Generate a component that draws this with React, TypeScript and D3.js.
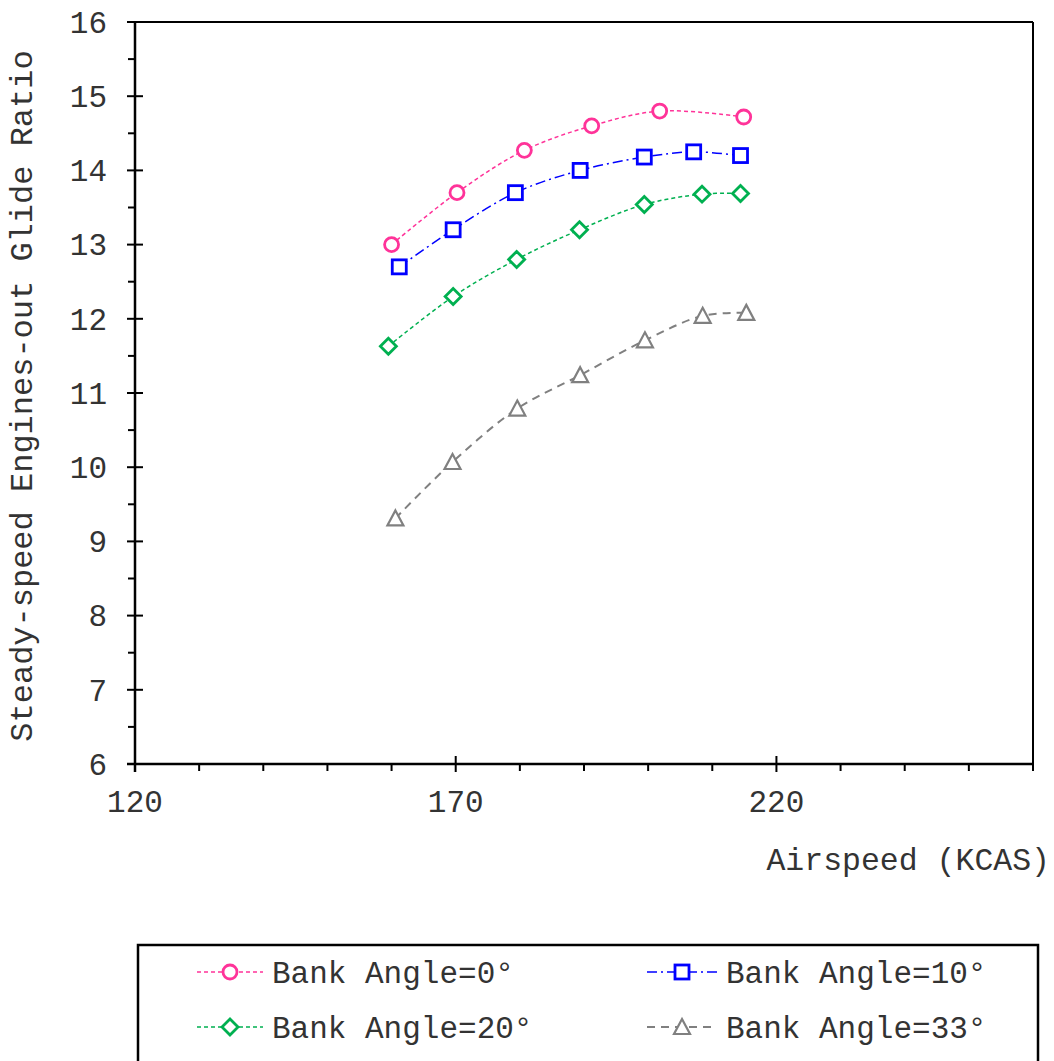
import React from "react";
import * as d3 from "d3";

const pinkX = [160, 170.2, 180.7, 191.2, 201.8, 214.9];
const pinkY = [13.0, 13.7, 14.27, 14.6, 14.8, 14.72];
const blueX = [161.2, 169.6, 179.3, 189.4, 199.4, 207.1, 214.4];
const blueY = [12.7, 13.2, 13.7, 14.0, 14.18, 14.25, 14.2];
const greenX = [159.5, 169.6, 179.5, 189.3, 199.4, 208.4, 214.4];
const greenY = [11.63, 12.3, 12.8, 13.2, 13.54, 13.68, 13.69];
const grayX = [160.6, 169.5, 179.6, 189.4, 199.5, 208.5, 215.3];
const grayY = [9.31, 10.07, 10.79, 11.24, 11.71, 12.04, 12.08];

const xTicks = [120, 170, 220];
const yTicks = [6, 7, 8, 9, 10, 11, 12, 13, 14, 15, 16];
const seriesNames = ["Bank Angle=0°", "Bank Angle=10°", "Bank Angle=20°", "Bank Angle=33°"];

const FONT = "'Liberation Mono', 'Courier New', monospace";
const TXT = "#333";

type Series = { name: string; xs: number[]; ys: number[]; color: string; dash: string; width: number; marker: string };

const series: Series[] = [
  { name: seriesNames[0], xs: pinkX, ys: pinkY, color: "#ff3399", dash: "4 3", width: 1.5, marker: "circle" },
  { name: seriesNames[1], xs: blueX, ys: blueY, color: "#0000ff", dash: "10 4 2 4", width: 1.5, marker: "square" },
  { name: seriesNames[2], xs: greenX, ys: greenY, color: "#00b050", dash: "4 3", width: 1.5, marker: "diamond" },
  { name: seriesNames[3], xs: grayX, ys: grayY, color: "#808080", dash: "8 6", width: 2, marker: "triangle" },
];

function Marker({ type, x, y, color }: { type: string; x: number; y: number; color: string }) {
  if (type === "circle") return <circle cx={x} cy={y} r={7} fill="#fff" stroke={color} strokeWidth={2.8} />;
  if (type === "square") return <rect x={x - 7} y={y - 7} width={14} height={14} fill="#fff" stroke={color} strokeWidth={2.8} />;
  if (type === "diamond")
    return <path d={`M${x},${y - 8}L${x + 8},${y}L${x},${y + 8}L${x - 8},${y}Z`} fill="#fff" stroke={color} strokeWidth={2.8} />;
  return <path d={`M${x},${y - 8}L${x + 8},${y + 7}L${x - 8},${y + 7}Z`} fill="#fff" stroke={color} strokeWidth={2.2} />;
}

export default function App() {
  const W = 1054, H = 1061;
  const left = 135, right = 1033, top = 22, bottom = 764;
  const x = d3.scaleLinear().domain([120, 260]).range([left, right]);
  const y = d3.scaleLinear().domain([6, 16]).range([bottom, top]);
  const minorX = d3.range(130, 261, 10).filter((v) => !xTicks.includes(v));
  const minorY = d3.range(6.5, 16, 1);

  const line = d3
    .line<[number, number]>()
    .x((d) => x(d[0]))
    .y((d) => y(d[1]))
    .curve(d3.curveCatmullRom.alpha(0.5));

  const legendRows = [
    { s: series[0], lx: 197, ly: 972, lw: 66 },
    { s: series[1], lx: 647, ly: 972, lw: 70 },
    { s: series[2], lx: 197, ly: 1027, lw: 66 },
    { s: series[3], lx: 647, ly: 1027, lw: 70 },
  ];

  return (
    <svg width={W} height={H} style={{ position: "absolute", left: 0, top: 0, background: "#fff" }}>
      <rect x={0} y={0} width={W} height={H} fill="#fff" />
      {/* plot frame */}
      <line x1={left} y1={top} x2={right} y2={top} stroke="#000" strokeWidth={2} />
      <line x1={right} y1={top} x2={right} y2={bottom + 7} stroke="#000" strokeWidth={2} />
      <line x1={left} y1={top} x2={left} y2={bottom + 8} stroke="#000" strokeWidth={2.5} />
      <line x1={left - 8} y1={bottom} x2={right} y2={bottom} stroke="#000" strokeWidth={2.5} />
      {/* y ticks */}
      {yTicks.map((t) => (
        <g key={"yt" + t}>
          <line x1={left - 8} x2={t === 6 ? left : left + 8} y1={y(t)} y2={y(t)} stroke="#000" strokeWidth={2} />
          <text x={107} y={y(t)} dy="0.35em" textAnchor="end" fontFamily={FONT} fontSize={31} fill={TXT}>
            {t}
          </text>
        </g>
      ))}
      {minorY.map((t) => (
        <line key={"ym" + t} x1={left - 7} x2={left} y1={y(t)} y2={y(t)} stroke="#000" strokeWidth={2} />
      ))}
      {/* x ticks */}
      {xTicks.map((t) => (
        <g key={"xt" + t}>
          <line x1={x(t)} x2={x(t)} y1={t === 120 ? bottom : bottom - 8} y2={bottom + 8} stroke="#000" strokeWidth={2} />
          <text x={x(t)} y={812} textAnchor="middle" fontFamily={FONT} fontSize={31} fill={TXT}>
            {t}
          </text>
        </g>
      ))}
      {minorX.map((t) => (
        <line key={"xm" + t} x1={x(t)} x2={x(t)} y1={bottom} y2={bottom + 7} stroke="#000" strokeWidth={2} />
      ))}
      {/* axis titles */}
      <text x={1050} y={870} textAnchor="end" fontFamily={FONT} fontSize={31.5} fill={TXT}>
        Airspeed (KCAS)
      </text>
      <text
        transform={`translate(32, 396) rotate(-90)`}
        textAnchor="middle"
        fontFamily={FONT}
        fontSize={32}
        fill={TXT}
      >
        Steady-speed Engines-out Glide Ratio
      </text>
      {/* series */}
      {series.map((s) => {
        const pts = s.xs.map((v, i) => [v, s.ys[i]] as [number, number]);
        return (
          <g key={s.name}>
            <path d={line(pts) || ""} fill="none" stroke={s.color} strokeWidth={s.width} strokeDasharray={s.dash} />
            {pts.map((p, i) => (
              <Marker key={i} type={s.marker} x={x(p[0])} y={y(p[1])} color={s.color} />
            ))}
          </g>
        );
      })}
      {/* legend */}
      <rect x={138} y={945} width={900} height={140} fill="#fff" stroke="#000" strokeWidth={2.5} />
      {legendRows.map(({ s, lx, ly, lw }) => (
        <g key={"lg" + s.name}>
          <line x1={lx} x2={lx + lw} y1={ly} y2={ly} stroke={s.color} strokeWidth={s.width} strokeDasharray={s.dash} />
          <Marker type={s.marker} x={lx + lw / 2} y={ly} color={s.color} />
          <text x={lx + lw + 9} y={ly} dy="0.35em" fontFamily={FONT} fontSize={31} fill={TXT}>
            {s.name}
          </text>
        </g>
      ))}
    </svg>
  );
}
